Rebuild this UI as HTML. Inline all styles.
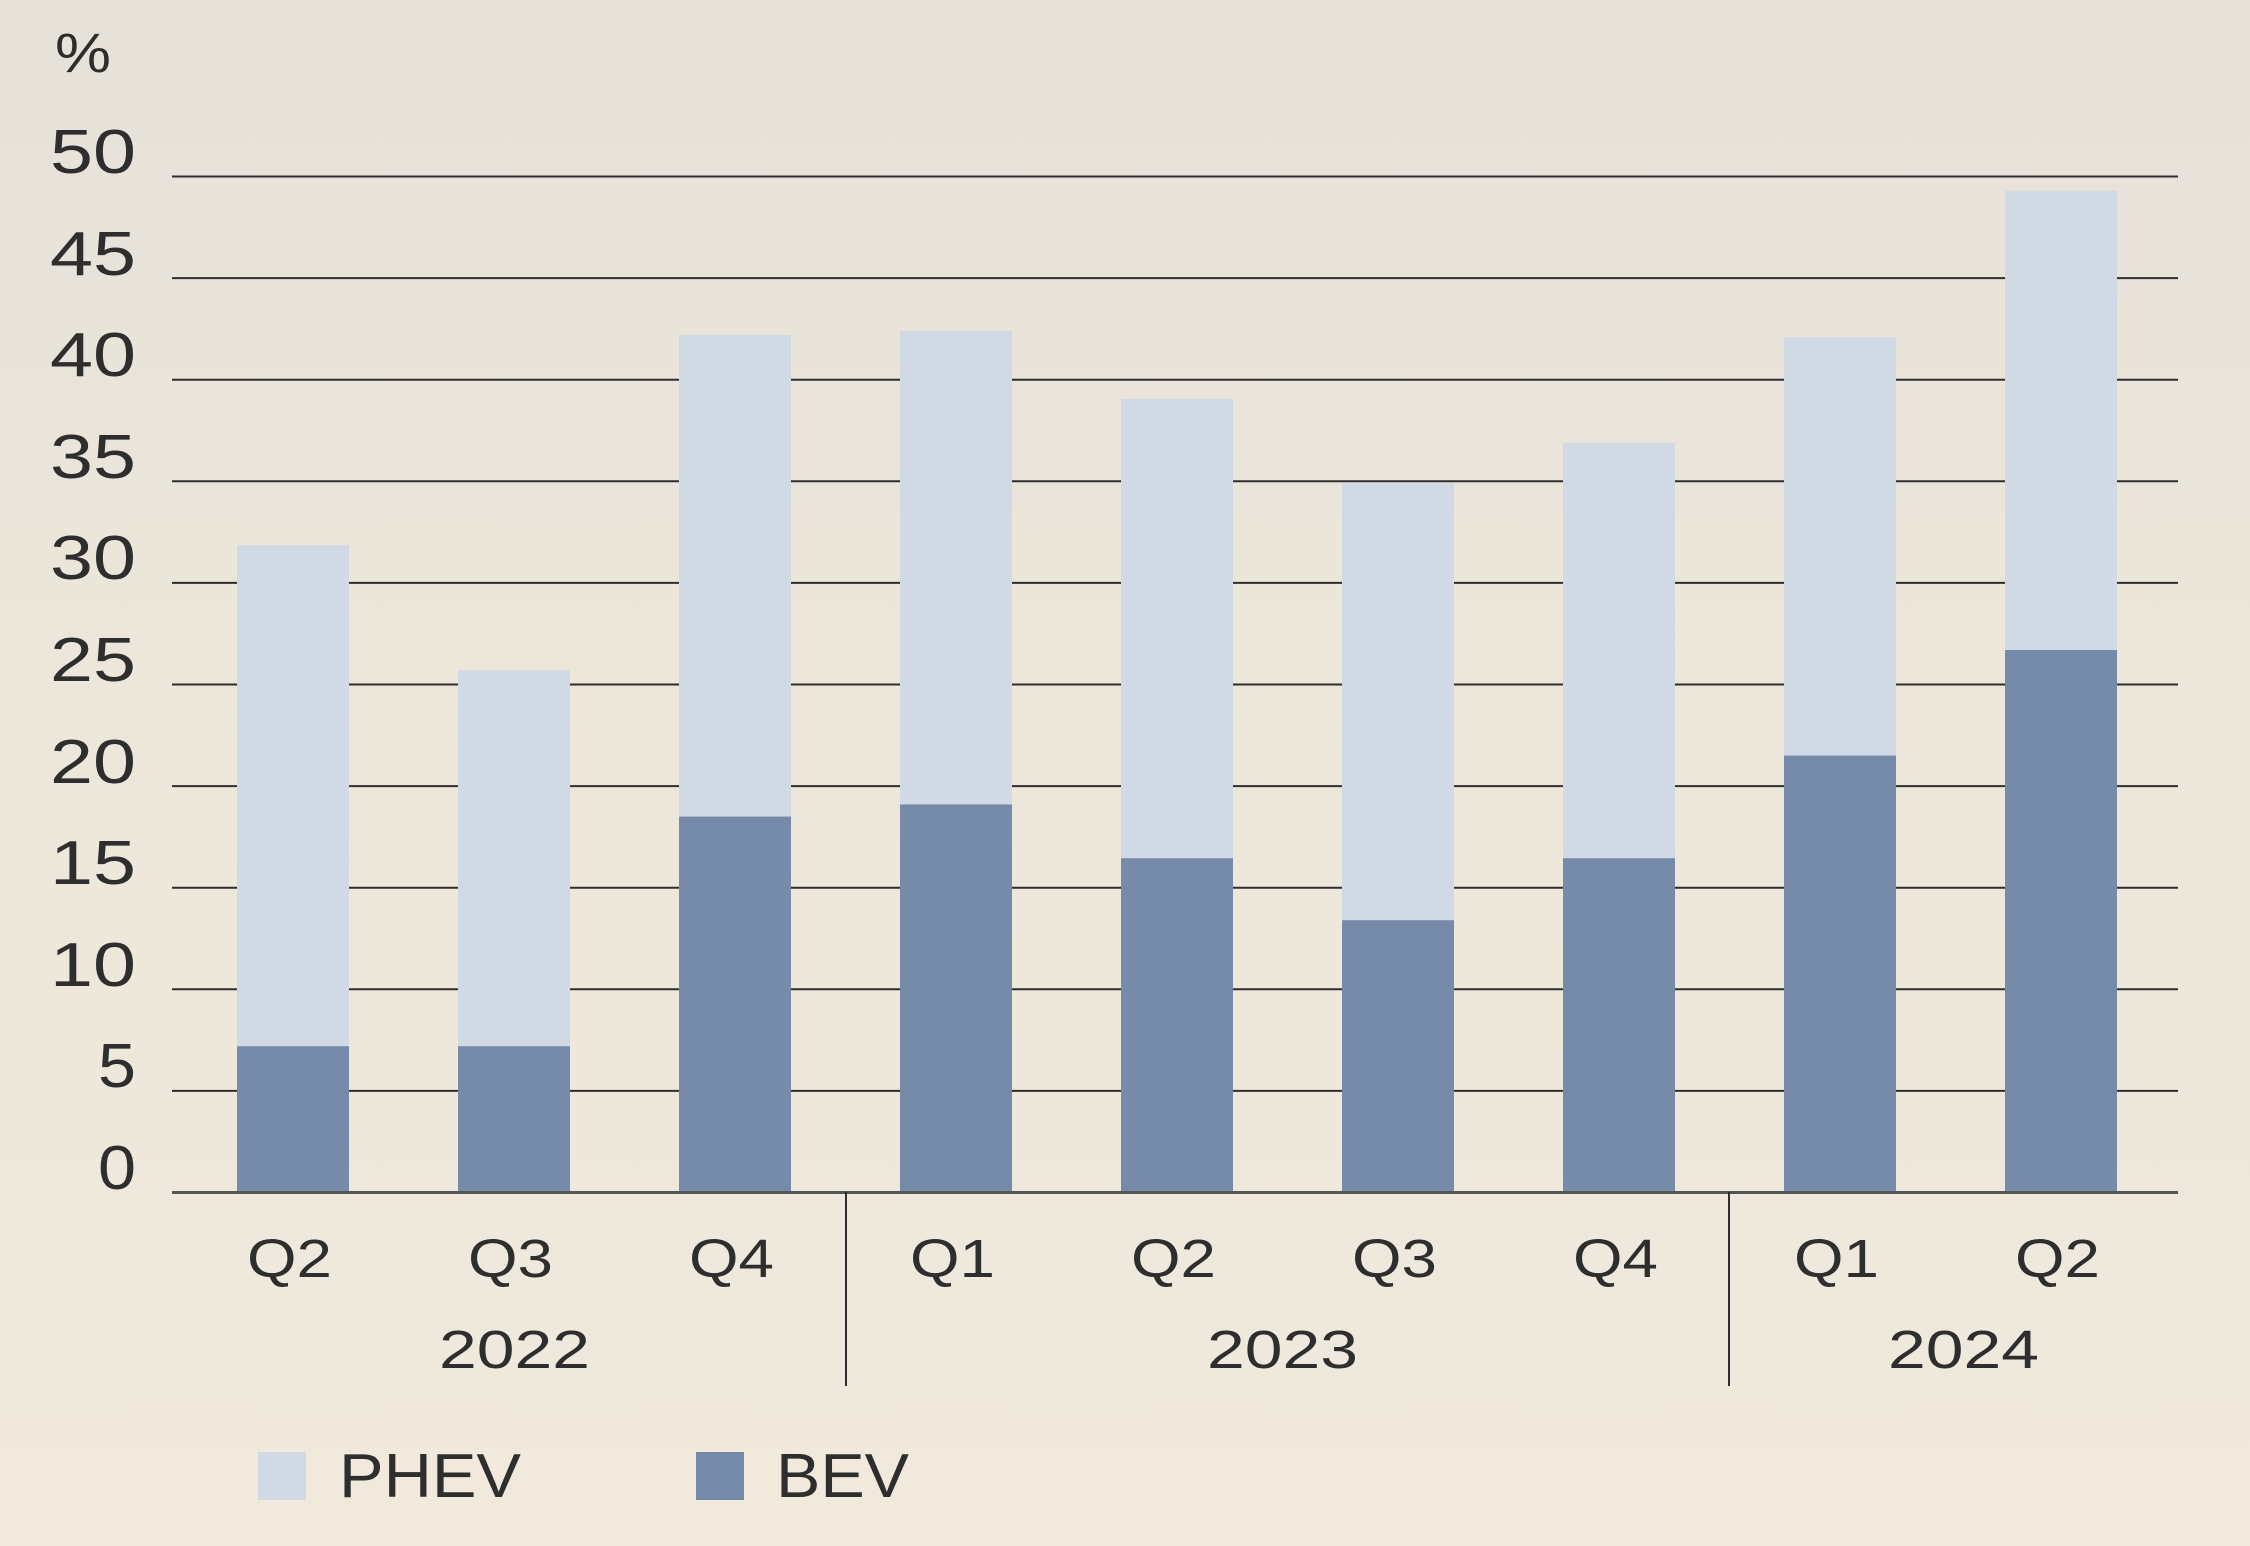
<!DOCTYPE html>
<html><head><meta charset="utf-8"><style>
html,body{margin:0;padding:0;}
body{width:2250px;height:1546px;background:linear-gradient(180deg,#e6e1d9 0%,#ede7db 50%,#f0e9dc 100%);}
svg{display:block;}
text{font-family:"Liberation Sans",sans-serif;fill:#2e2e2e;}
</style></head><body>
<svg width="2250" height="1546" viewBox="0 0 2250 1546">
<text x="55" y="72" font-size="56" textLength="56" lengthAdjust="spacingAndGlyphs">%</text>
<g stroke="#2e2e2e" stroke-width="2">
<line x1="172" x2="2178" y1="176.5" y2="176.5"/>
<line x1="172" x2="2178" y1="278.1" y2="278.1"/>
<line x1="172" x2="2178" y1="379.7" y2="379.7"/>
<line x1="172" x2="2178" y1="481.3" y2="481.3"/>
<line x1="172" x2="2178" y1="582.9" y2="582.9"/>
<line x1="172" x2="2178" y1="684.5" y2="684.5"/>
<line x1="172" x2="2178" y1="786.1" y2="786.1"/>
<line x1="172" x2="2178" y1="887.7" y2="887.7"/>
<line x1="172" x2="2178" y1="989.3" y2="989.3"/>
<line x1="172" x2="2178" y1="1090.9" y2="1090.9"/>
</g>
<g font-size="62">
<text x="50" y="173" textLength="86" lengthAdjust="spacingAndGlyphs">50</text>
<text x="50" y="275" textLength="86" lengthAdjust="spacingAndGlyphs">45</text>
<text x="50" y="376" textLength="86" lengthAdjust="spacingAndGlyphs">40</text>
<text x="50" y="478" textLength="86" lengthAdjust="spacingAndGlyphs">35</text>
<text x="50" y="579" textLength="86" lengthAdjust="spacingAndGlyphs">30</text>
<text x="50" y="681" textLength="86" lengthAdjust="spacingAndGlyphs">25</text>
<text x="50" y="783" textLength="86" lengthAdjust="spacingAndGlyphs">20</text>
<text x="50" y="884" textLength="86" lengthAdjust="spacingAndGlyphs">15</text>
<text x="50" y="986" textLength="86" lengthAdjust="spacingAndGlyphs">10</text>
<text x="98" y="1087" textLength="38" lengthAdjust="spacingAndGlyphs">5</text>
<text x="98" y="1189" textLength="38" lengthAdjust="spacingAndGlyphs">0</text>
</g>
<g>
<rect x="237" y="545.3" width="112" height="647.2" fill="#d1dae4"/><rect x="237" y="1046.2" width="112" height="146.3" fill="#768ba9"/>
<rect x="458" y="670.3" width="112" height="522.2" fill="#d1dae4"/><rect x="458" y="1046.2" width="112" height="146.3" fill="#768ba9"/>
<rect x="679" y="335" width="112" height="857.5" fill="#d1dae4"/><rect x="679" y="816.6" width="112" height="375.9" fill="#768ba9"/>
<rect x="900" y="330.9" width="112" height="861.6" fill="#d1dae4"/><rect x="900" y="804.4" width="112" height="388.1" fill="#768ba9"/>
<rect x="1121" y="399" width="112" height="793.5" fill="#d1dae4"/><rect x="1121" y="858.2" width="112" height="334.3" fill="#768ba9"/>
<rect x="1342" y="483.3" width="112" height="709.2" fill="#d1dae4"/><rect x="1342" y="920.2" width="112" height="272.3" fill="#768ba9"/>
<rect x="1563" y="442.7" width="112" height="749.8" fill="#d1dae4"/><rect x="1563" y="858.2" width="112" height="334.3" fill="#768ba9"/>
<rect x="1784" y="337" width="112" height="855.5" fill="#d1dae4"/><rect x="1784" y="755.6" width="112" height="436.9" fill="#768ba9"/>
<rect x="2005" y="190.7" width="112" height="1001.8" fill="#d1dae4"/><rect x="2005" y="650" width="112" height="542.5" fill="#768ba9"/>
</g>
<line x1="172" x2="2178" y1="1192.5" y2="1192.5" stroke="#555" stroke-width="3"/>
<line x1="846" x2="846" y1="1192" y2="1386" stroke="#2e2e2e" stroke-width="2"/>
<line x1="1729" x2="1729" y1="1192" y2="1386" stroke="#2e2e2e" stroke-width="2"/>
<g font-size="54">
<text x="247" y="1277" textLength="85" lengthAdjust="spacingAndGlyphs">Q2</text><text x="468" y="1277" textLength="85" lengthAdjust="spacingAndGlyphs">Q3</text><text x="689" y="1277" textLength="85" lengthAdjust="spacingAndGlyphs">Q4</text>
<text x="910" y="1277" textLength="85" lengthAdjust="spacingAndGlyphs">Q1</text><text x="1131" y="1277" textLength="85" lengthAdjust="spacingAndGlyphs">Q2</text><text x="1352" y="1277" textLength="85" lengthAdjust="spacingAndGlyphs">Q3</text>
<text x="1573" y="1277" textLength="85" lengthAdjust="spacingAndGlyphs">Q4</text><text x="1794" y="1277" textLength="85" lengthAdjust="spacingAndGlyphs">Q1</text><text x="2015" y="1277" textLength="85" lengthAdjust="spacingAndGlyphs">Q2</text>
<text x="439" y="1368" textLength="151" lengthAdjust="spacingAndGlyphs">2022</text><text x="1207" y="1368" textLength="151" lengthAdjust="spacingAndGlyphs">2023</text><text x="1888" y="1368" textLength="151" lengthAdjust="spacingAndGlyphs">2024</text>
</g>
<rect x="258" y="1452" width="48" height="48" fill="#d1dae4"/>
<text x="339" y="1497" font-size="62" textLength="182" lengthAdjust="spacingAndGlyphs">PHEV</text>
<rect x="696" y="1452" width="48" height="48" fill="#768ba9"/>
<text x="776" y="1497" font-size="62" textLength="133" lengthAdjust="spacingAndGlyphs">BEV</text>
</svg>
</body></html>
